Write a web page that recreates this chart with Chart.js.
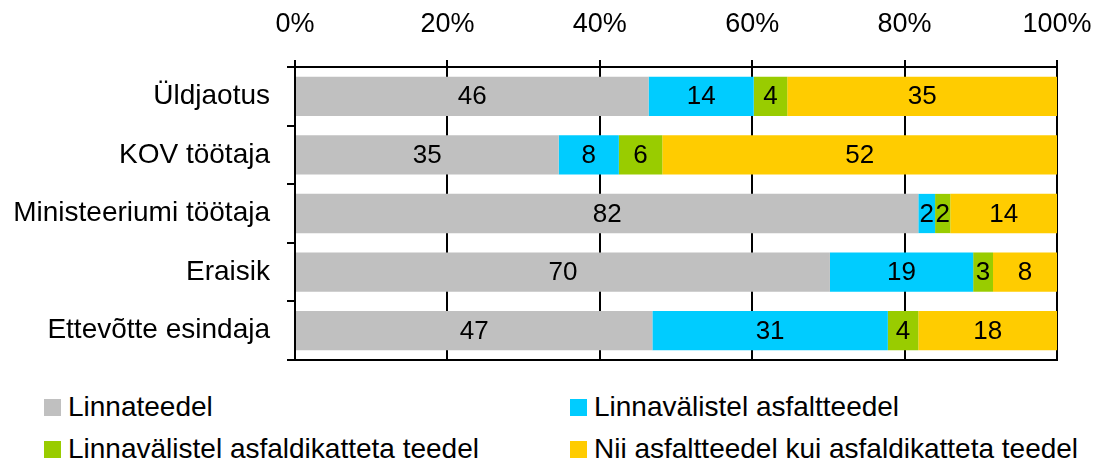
<!DOCTYPE html>
<html>
<head>
<meta charset="utf-8">
<script src="https://cdn.jsdelivr.net/npm/chart.js@4"></script>
<style>
  body { margin: 0; background: #fff; }
  #wrap { position: relative; width: 1101px; height: 467px; }
  #legend { position: absolute; left: 0; top: 397px; width: 1101px; display: grid;
    grid-template-columns: 526px 531px; padding-left: 44px; row-gap: 22px;
    font-family: "Liberation Sans", Arial, sans-serif; font-size: 28px; color: #000; }
  .item { display: flex; align-items: center; height: 20px; white-space: nowrap; }
  .box { width: 17px; height: 17px; margin-right: 7px; }
</style>
</head>
<body>
<div id="wrap">
  <canvas id="chart" width="1101" height="380"></canvas>
  <div id="legend"></div>
</div>
<script>
const categories = ["Üldjaotus", "KOV töötaja", "Ministeeriumi töötaja", "Eraisik", "Ettevõtte esindaja"];
const seriesNames = ["Linnateedel", "Linnavälistel asfaltteedel", "Linnavälistel asfaldikatteta teedel", "Nii asfaltteedel kui asfaldikatteta teedel"];
const colors = ["#C0C0C0", "#00CCFF", "#99CC00", "#FFCC00"];
// shares in %, one array per series (same order as categories)
const linnateedel = [46.4, 34.6, 81.8, 70.2, 46.9];
const asfaltteedel = [13.8, 7.9, 2.2, 18.8, 30.9];
const katteta = [4.4, 5.7, 2.0, 2.6, 4.0];
const molemad = [35.4, 51.8, 14.0, 8.4, 18.2];
const xTicks = [0, 20, 40, 60, 80, 100];

const FAMILY = '"Liberation Sans", Arial, sans-serif';
Chart.defaults.color = "#000";

const values = [linnateedel, asfaltteedel, katteta, molemad];

// numbers inside the bars
const barLabels = {
  id: "barLabels",
  afterDatasetsDraw(chart) {
    const ctx = chart.ctx;
    ctx.save();
    ctx.font = "26px " + FAMILY;
    ctx.fillStyle = "#000";
    ctx.textAlign = "center";
    ctx.textBaseline = "middle";
    chart.data.datasets.forEach((ds, i) => {
      chart.getDatasetMeta(i).data.forEach((bar, j) => {
        const p = bar.getProps(["x", "y", "base"], true);
        ctx.fillText(Math.round(ds.data[j]), (p.x + p.base) / 2, p.y + 1);
      });
    });
    ctx.restore();
  }
};

// bottom edge of the plot frame
const frame = {
  id: "frame",
  afterDraw(chart) {
    const a = chart.chartArea, ctx = chart.ctx;
    ctx.save();
    ctx.strokeStyle = "#000";
    ctx.lineWidth = 2;
    ctx.beginPath();
    ctx.moveTo(a.left - 2, a.bottom);
    ctx.lineTo(a.right + 1, a.bottom);
    ctx.stroke();
    ctx.restore();
  }
};

new Chart(document.getElementById("chart"), {
  type: "bar",
  data: {
    labels: categories,
    datasets: seriesNames.map((name, i) => ({
      label: name,
      data: values[i],
      backgroundColor: colors[i],
      borderWidth: 0,
      barPercentage: 0.67,
      categoryPercentage: 1
    }))
  },
  options: {
    indexAxis: "y",
    responsive: false,
    animation: false,
    layout: { padding: { left: 0, right: 44, top: 0, bottom: 20 } },
    plugins: { legend: { display: false }, tooltip: { enabled: false } },
    scales: {
      x: {
        position: "top",
        stacked: true,
        min: 0,
        max: 100,
        afterBuildTicks: (s) => { s.ticks = xTicks.map(v => ({ value: v })); },
        afterFit: (s) => { s.height = 67; s.paddingLeft = 0; s.paddingRight = 0; },
        ticks: { font: { family: FAMILY, size: 27 }, padding: 19, callback: (v) => v + "%" },
        grid: { color: "#000", lineWidth: 2, tickLength: 7 },
        border: { color: "#000", width: 2 }
      },
      y: {
        stacked: true,
        afterFit: (s) => { s.width = 295; s.paddingTop = 0; s.paddingBottom = 0; },
        ticks: { font: { family: FAMILY, size: 28 }, padding: 17 },
        grid: { color: "#000", lineWidth: 2, tickLength: 8, drawOnChartArea: false, offset: true },
        border: { color: "#000", width: 2 }
      }
    }
  },
  plugins: [barLabels, frame]
});

const legend = document.getElementById("legend");
seriesNames.forEach((name, i) => {
  const item = document.createElement("div");
  item.className = "item";
  item.innerHTML = '<span class="box" style="background:' + colors[i] + '"></span><span></span>';
  item.lastChild.textContent = name;
  legend.appendChild(item);
});
</script>
</body>
</html>
